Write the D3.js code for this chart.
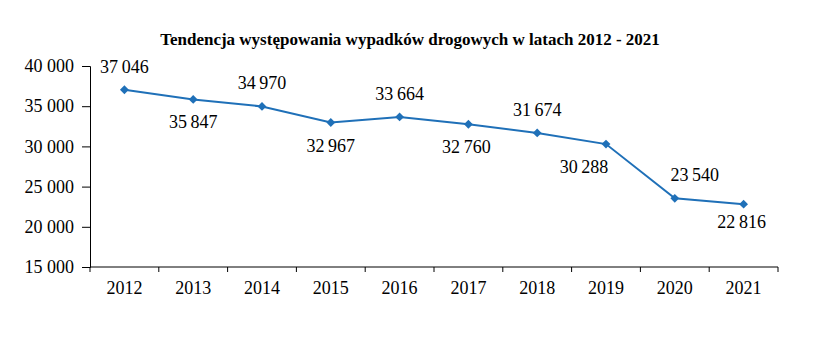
<!DOCTYPE html>
<html>
<head>
<meta charset="utf-8">
<script src="https://cdn.jsdelivr.net/npm/d3@7"></script>
<style>
  body { margin: 0; background: #fff; }
  svg text { font-family: "Liberation Serif", "Times New Roman", serif; fill: #000; }
</style>
</head>
<body>
<div id="chart"></div>
<script>
const years = ['2012', '2013', '2014', '2015', '2016', '2017', '2018', '2019', '2020', '2021'];
const accidents = [37046, 35847, 34970, 32967, 33664, 32760, 31674, 30288, 23540, 22816];
const labelAbove = [true, false, true, false, true, false, true, false, true, false];
// small nudges of data labels, as in the source chart
const labelShift = [0, 0, 0, 0, 0, -2, 0, -22, 20, -2];
const labelLift = [0, 0, 0, 0, 0, 0, 0, 0, 0, 5];
const yTicks = [15000, 20000, 25000, 30000, 35000, 40000];
const title = 'Tendencja występowania wypadków drogowych w latach 2012 - 2021';

const width = 835, height = 357;
const margin = {top: 66, right: 57, bottom: 90, left: 90};
const w = width - margin.left - margin.right;
const h = height - margin.top - margin.bottom;
const lineColor = '#1f70b8';

const fmt = v => d3.format(',')(v).replace(/,/g, '\u2009');

const svg = d3.select('#chart').append('svg')
  .attr('width', width)
  .attr('height', height);

svg.append('text')
  .attr('x', 410)
  .attr('y', 45)
  .attr('text-anchor', 'middle')
  .style('font-weight', 'bold')
  .style('font-size', '17px')
  .text(title);

const chart = svg.append('g')
  .attr('transform', `translate(${margin.left},${margin.top})`);

const x = d3.scaleBand().domain(years).range([0, w]);
const y = d3.scaleLinear().domain([15000, 40000]).range([h, 0]);

// y axis
const yAxis = d3.axisLeft(y).tickValues(yTicks).tickSize(8).tickPadding(8)
  .tickFormat(d => d3.format(',')(d).replace(/,/g, ' '));
chart.append('g').call(yAxis)
  .call(g => g.selectAll('text').style('font-size', '18px'));

// x axis with ticks at category boundaries
const xg = chart.append('g').attr('transform', `translate(0,${h})`);
xg.append('line').attr('x1', 0).attr('x2', w).attr('stroke', '#000');
xg.selectAll('.tick-b')
  .data(years.concat(['end']))
  .join('line')
  .attr('x1', (d, i) => i * x.step())
  .attr('x2', (d, i) => i * x.step())
  .attr('y1', 0).attr('y2', 5)
  .attr('stroke', '#000');
xg.selectAll('.lbl')
  .data(years)
  .join('text')
  .attr('x', d => x(d) + x.bandwidth() / 2)
  .attr('y', 27)
  .attr('text-anchor', 'middle')
  .style('font-size', '18px')
  .text(d => d);

const cx = (d, i) => x(years[i]) + x.bandwidth() / 2;

const line = d3.line().x(cx).y(d => y(d));
chart.append('path')
  .datum(accidents)
  .attr('fill', 'none')
  .attr('stroke', lineColor)
  .attr('stroke-width', 2)
  .attr('d', line);

chart.selectAll('.pt')
  .data(accidents)
  .join('path')
  .attr('d', d3.symbol(d3.symbolDiamond2, 50))
  .attr('transform', (d, i) => `translate(${cx(d, i)},${y(d)})`)
  .attr('fill', lineColor);

chart.selectAll('.val')
  .data(accidents)
  .join('text')
  .attr('x', (d, i) => cx(d, i) + labelShift[i])
  .attr('y', (d, i) => y(d) + (labelAbove[i] ? -17 : 29) - labelLift[i])
  .attr('text-anchor', 'middle')
  .style('font-size', '18px')
  .text(fmt);
</script>
</body>
</html>
